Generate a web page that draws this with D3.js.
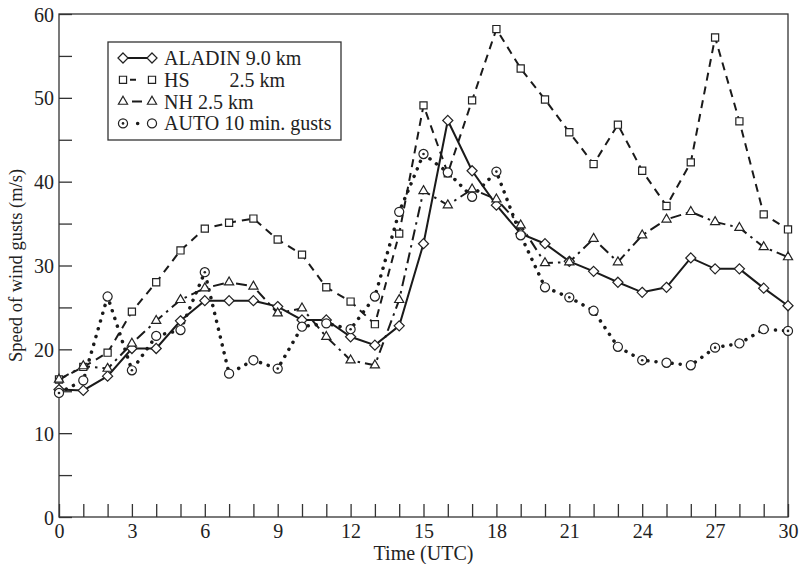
<!DOCTYPE html>
<html>
<head>
<meta charset="utf-8">
<script src="https://cdn.jsdelivr.net/npm/d3@7"></script>
<style>
	body { margin: 0; background: #fff; }
	text { font-family: "Liberation Serif", "DejaVu Serif", serif; fill: #222; }
</style>
</head>
<body>
<svg id="chart"></svg>
<script>
// wind gust speeds, hourly 0..30 UTC

let hours = d3.range(0, 31);

let aladin = [15.2, 15.1, 16.8, 20.1, 20.1, 23.4, 25.8, 25.8, 25.8, 25.1, 23.5, 23.5, 21.5, 20.5, 22.8, 32.6,
	47.3, 41.3, 37.2, 33.8, 32.6, 30.5, 29.3, 28.0, 26.8, 27.4, 30.9, 29.6, 29.6, 27.3, 25.2];
let hs = [16.4, 17.9, 19.6, 24.5, 28.0, 31.8, 34.4, 35.1, 35.6, 33.1, 31.3, 27.4, 25.7, 23.0, 33.8, 49.1,
	41.0, 49.7, 58.2, 53.5, 49.8, 45.9, 42.1, 46.8, 41.3, 37.1, 42.3, 57.2, 47.2, 36.1, 34.3];
let nh = [16.4, 18.0, 17.7, 20.7, 23.4, 25.9, 27.3, 28.0, 27.5, 24.3, 24.9, 21.5, 18.7, 18.1, 25.9, 38.9,
	37.2, 39.1, 37.9, 34.8, 30.3, 30.4, 33.2, 30.4, 33.6, 35.5, 36.4, 35.2, 34.5, 32.2, 31.0];
let auto = [14.8, 16.3, 26.3, 17.5, 21.6, 22.3, 29.2, 17.1, 18.7, 17.7, 22.7, 23.1, 22.4, 26.3, 36.4, 43.3,
	41.1, 38.2, 41.2, 33.6, 27.4, 26.2, 24.6, 20.3, 18.7, 18.4, 18.1, 20.2, 20.7, 22.4, 22.2];

let seriesNames = ["ALADIN 9.0 km", "HS        2.5 km", "NH 2.5 km", "AUTO 10 min. gusts"];
let xTickLabels = [0, 3, 6, 9, 12, 15, 18, 21, 24, 27, 30];
let yTickLabels = [0, 10, 20, 30, 40, 50, 60];

let width = 801, height = 564;
let margin = {left: 59, right: 13, top: 14, bottom: 47};

let svg = d3.select("#chart")
	.attr("width", width)
	.attr("height", height);

let x = d3.scaleLinear().domain([0, 30]).range([margin.left, width - margin.right]);
let y = d3.scaleLinear().domain([0, 60]).range([height - margin.bottom, margin.top]);

// frame
svg.append("rect")
	.attr("x", x(0)).attr("y", y(60))
	.attr("width", x(30) - x(0)).attr("height", y(0) - y(60))
	.attr("fill", "none").attr("stroke", "#333").attr("stroke-width", 1.3);

// axes, ticks pointing inward
let xAxis = d3.axisBottom(x).tickValues(hours).tickSize(-13).tickPadding(7)
	.tickFormat(d => xTickLabels.includes(d) ? d : "");
let gx = svg.append("g").attr("transform", "translate(0," + y(0) + ")").call(xAxis);

let yAxis = d3.axisLeft(y).tickValues(d3.range(0, 61, 5)).tickSize(-13).tickPadding(5)
	.tickFormat(d => yTickLabels.includes(d) ? d : "");
let gy = svg.append("g").attr("transform", "translate(" + x(0) + ",0)").call(yAxis);

[gx, gy].forEach(g => {
	g.select(".domain").remove();
	g.selectAll("line").attr("stroke", "#333").attr("stroke-width", 1.3);
	g.selectAll("text").style("font-family", "Liberation Serif, serif").style("font-size", "20px").attr("fill", "#333");
});
gy.selectAll("text").attr("dy", "0.35em");

svg.append("text")
	.attr("x", (x(0) + x(30)) / 2).attr("y", 560)
	.attr("text-anchor", "middle")
	.style("font-size", "20px")
	.text("Time (UTC)");

svg.append("text")
	.attr("transform", "translate(22," + y(30) + ") rotate(-90)")
	.attr("text-anchor", "middle")
	.style("font-size", "18.5px")
	.text("Speed of wind gusts (m/s)");

// series
let series = [
	{name: seriesNames[0], values: aladin, dash: null, width: 2, marker: "diamond"},
	{name: seriesNames[1], values: hs, dash: "8,6", width: 2, marker: "square"},
	{name: seriesNames[2], values: nh, dash: "11,5,2.5,5", width: 2, marker: "triangle"},
	{name: seriesNames[3], values: auto, dash: "0.1,8", width: 3.5, marker: "circle"}
];

let line = d3.line()
	.x((d, i) => x(hours[i]))
	.y(d => y(d));

let symbolTypes = {
	diamond: d3.symbolDiamond2,
	square: d3.symbolSquare2,
	triangle: d3.symbolTriangle2,
	circle: d3.symbolCircle
};
let symbolSizes = {diamond: 65, square: 65, triangle: 60, circle: 65};

function drawMarker(g, type, cx, cy, withDot){
	g.append("path")
		.attr("d", d3.symbol().type(symbolTypes[type]).size(symbolSizes[type])())
		.attr("transform", "translate(" + cx + "," + cy + ")")
		.attr("fill", "#fff")
		.attr("stroke", "#222")
		.attr("stroke-width", 1.2);
	if (withDot){
		g.append("circle").attr("cx", cx).attr("cy", cy).attr("r", 1.3).attr("fill", "#222");
	}
}

series.forEach(s => {
	svg.append("path")
		.attr("d", line(s.values))
		.attr("fill", "none")
		.attr("stroke", "#1a1a1a")
		.attr("stroke-width", s.width)
		.attr("stroke-linecap", s.marker == "circle" ? "round" : "butt")
		.attr("stroke-dasharray", s.dash);
});

series.forEach(s => {
	let g = svg.append("g");
	s.values.forEach((v, i) => drawMarker(g, s.marker, x(hours[i]), y(v), s.marker == "circle" && i % 3 == 0));
});

// legend
let legend = svg.append("g");
legend.append("rect")
	.attr("x", 108).attr("y", 42)
	.attr("width", 233).attr("height", 98)
	.attr("fill", "#fff").attr("stroke", "#333").attr("stroke-width", 1.3);

series.forEach((s, i) => {
	let ly = 58 + i * 21.8;
	legend.append("line")
		.attr("x1", 123).attr("x2", 152)
		.attr("y1", ly).attr("y2", ly)
		.attr("stroke", "#1a1a1a")
		.attr("stroke-width", s.width)
		.attr("stroke-linecap", s.marker == "circle" ? "round" : "butt")
		.attr("stroke-dasharray", s.marker == "square" ? "0,7,6,30" : s.marker == "triangle" ? "0,9,10,30" : s.marker == "circle" ? "0.1,14.5" : null);
	drawMarker(legend, s.marker, 123, ly, s.marker == "circle");
	drawMarker(legend, s.marker, 152, ly, false);
	legend.append("text")
		.attr("x", 164).attr("y", ly)
		.attr("dy", "0.35em")
		.style("font-size", "20px")
		.attr("xml:space", "preserve")
		.text(s.name);
});
</script>
</body>
</html>
